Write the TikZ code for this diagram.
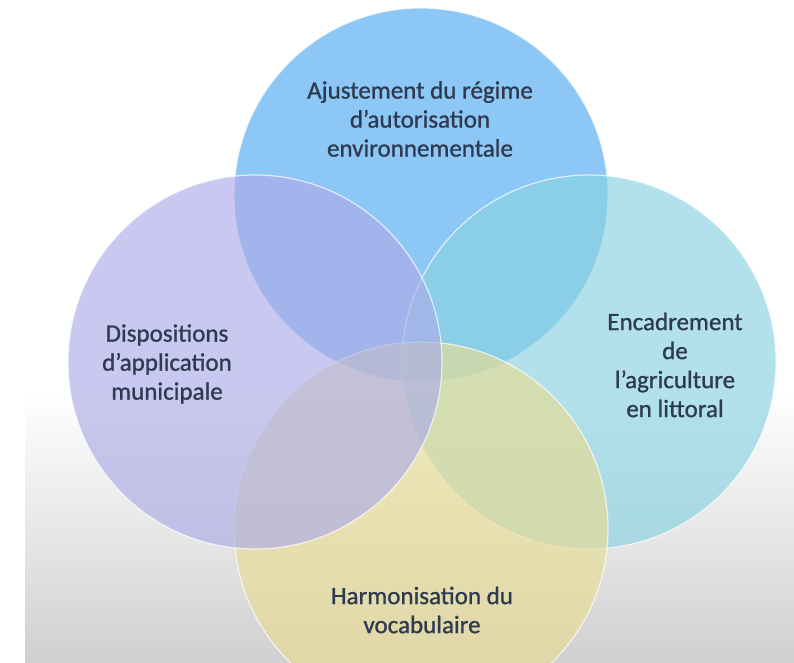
\documentclass[tikz,border=0pt]{standalone}
\usepackage{fontspec}
\setmainfont{Carlito}
\newfontfamily\labelfont[FakeBold=0.9]{Carlito}
\begin{document}
\definecolor{vennBlue}{RGB}{81,170,240}
\definecolor{vennTeal}{RGB}{137,210,226}
\definecolor{vennYellow}{RGB}{232,220,147}
\definecolor{vennPurple}{RGB}{172,172,232}
\definecolor{labelInk}{RGB}{46,58,80}
\definecolor{panelGrey}{RGB}{208,208,208}
\begin{tikzpicture}[x=1pt,y=-1pt,
  venn/.style={circle, minimum size=374pt, inner sep=0pt,
    fill opacity=0.65, draw=white, draw opacity=0.7, line width=1.2pt},
  vennlabel/.style={align=center, text=labelInk,
    font=\labelfont\fontsize{25}{29}\selectfont}]
  \useasboundingbox (0,0) rectangle (794,662);
  % backdrop: white page with a grey panel fading in towards the bottom
  \fill[white] (0,0) rectangle (794,662);
  \fill[top color=white, bottom color=panelGrey] (25,390) rectangle (794,662);
  % the four overlapping sets
  \node[venn, fill=vennBlue]   (haut)   at (421,195) {};
  \node[venn, fill=vennTeal]   (droite) at (589,362) {};
  \node[venn, fill=vennYellow] (bas)    at (421,529) {};
  \node[venn, fill=vennPurple] (gauche) at (255,362) {};
  % labels
  \node[vennlabel] (tHaut)   at (420,119) {Ajustement du régime\\d’autorisation\\environnementale};
  \node[vennlabel] (tGauche) at (167,364) {Dispositions\\d’application\\municipale};
  \node[vennlabel] (tDroite) at (675,365) {Encadrement\\de\\l’agriculture\\en littoral};
  \node[vennlabel] (tBas)    at (422,610) {Harmonisation du\\vocabulaire};
\end{tikzpicture}
\end{document}
